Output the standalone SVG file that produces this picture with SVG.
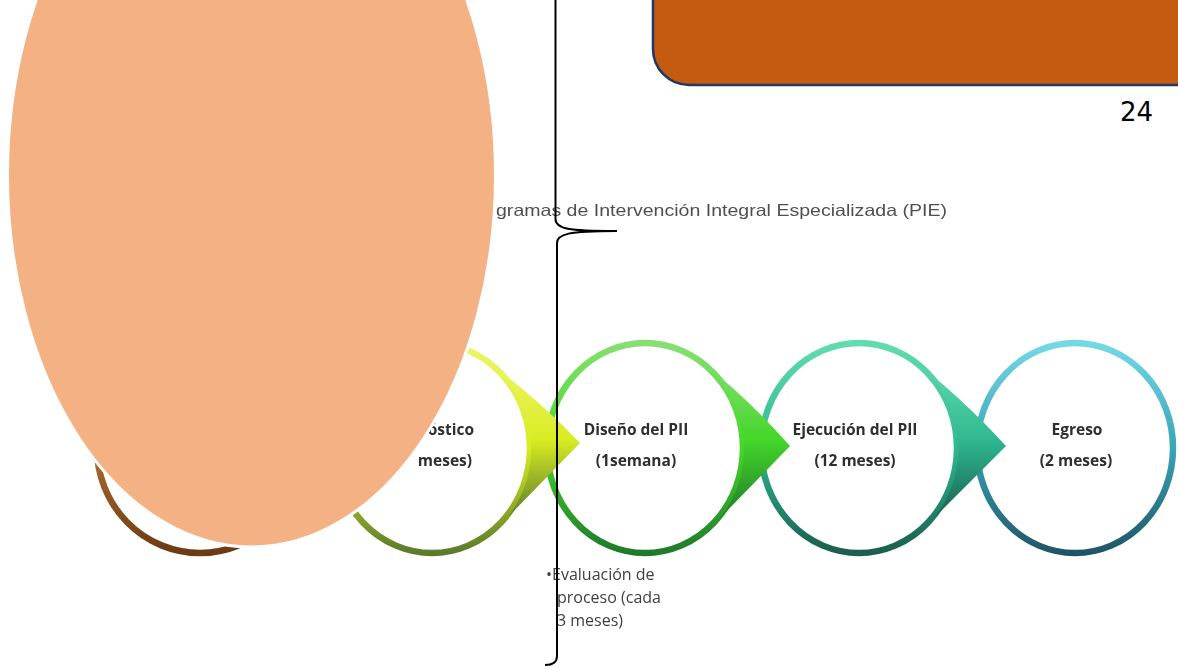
<svg xmlns="http://www.w3.org/2000/svg" width="1178" height="667" viewBox="0 0 1178 667">
<style>
.lbl{font-family:"Open Sans","Liberation Sans",sans-serif;font-weight:bold;font-size:15.5px;fill:#2e2e2e;text-anchor:middle}
.note{font-family:"Open Sans","Liberation Sans",sans-serif;font-size:16px;fill:#404040}
.ring{fill:#fff;stroke-width:6.5}
</style>
<defs>
<linearGradient id="gBrown" x1="0" y1="0" x2="0" y2="1"><stop offset="0" stop-color="#d9a46a"/><stop offset="0.55" stop-color="#a86a30"/><stop offset="1" stop-color="#6b3a12"/></linearGradient>
<linearGradient id="gYellow" x1="0" y1="0" x2="0" y2="1"><stop offset="0" stop-color="#eef56a"/><stop offset="0.5" stop-color="#d8ec22"/><stop offset="1" stop-color="#5c7a2c"/></linearGradient>
<linearGradient id="gGreen" x1="0" y1="0" x2="0" y2="1"><stop offset="0" stop-color="#86e070"/><stop offset="0.5" stop-color="#44d62a"/><stop offset="1" stop-color="#1f7a2a"/></linearGradient>
<linearGradient id="gTeal" x1="0" y1="0" x2="0" y2="1"><stop offset="0" stop-color="#62dcae"/><stop offset="0.5" stop-color="#2fb890"/><stop offset="1" stop-color="#1b5e4e"/></linearGradient>
<linearGradient id="gBlue" x1="0" y1="0" x2="0" y2="1"><stop offset="0" stop-color="#74d8e6"/><stop offset="0.5" stop-color="#3aa5b8"/><stop offset="1" stop-color="#1f5566"/></linearGradient>
<filter id="soft" x="-10%" y="-10%" width="120%" height="120%"><feGaussianBlur stdDeviation="0.7"/></filter>
</defs>
<rect width="1178" height="667" fill="#fff"/>

<g id="header">
<text x="496" y="216" font-family="Liberation Sans, Arial, sans-serif" font-size="16.5" fill="#505050" textLength="451" lengthAdjust="spacingAndGlyphs" filter="url(#soft)">gramas de Intervención Integral Especializada (PIE)</text>
<line x1="470" y1="263" x2="1136" y2="263" stroke="#a8a8a8" stroke-width="3" filter="url(#soft)"/>
</g>

<g id="node-egreso" filter="url(#soft)">
<ellipse class="ring" cx="1075" cy="448" rx="98" ry="105" stroke="url(#gBlue)"/>
<text class="lbl" x="1077" y="435">Egreso</text>
<text class="lbl" x="1076" y="466">(2 meses)</text>
</g>

<g id="node-ejecucion" filter="url(#soft)">
<ellipse class="ring" cx="859" cy="448" rx="98" ry="105" stroke="url(#gTeal)"/>
<path d="M915 362 Q959 395 1006 446 L934 518 A98 105 0 0 0 915 362 Z" fill="url(#gTeal)"/>
<text class="lbl" x="855" y="435">Ejecución del PII</text>
<text class="lbl" x="855" y="466">(12 meses)</text>
</g>

<g id="node-diseno" filter="url(#soft)">
<ellipse class="ring" cx="645" cy="448" rx="98" ry="105" stroke="url(#gGreen)"/>
<path d="M701 362 Q745 395 790 446 L720 518 A98 105 0 0 0 701 362 Z" fill="url(#gGreen)"/>
<text class="lbl" x="636" y="435">Diseño del PII</text>
<text class="lbl" x="636" y="466">(1semana)</text>
</g>

<g id="node-diagnostico" filter="url(#soft)">
<ellipse class="ring" cx="432" cy="448" rx="98" ry="105" stroke="url(#gYellow)"/>
<path d="M488 362 Q534 395 580 443 L507 518 A98 105 0 0 0 488 362 Z" fill="url(#gYellow)"/>
<text class="lbl" x="474" y="435" style="text-anchor:end">óstico</text>
<text class="lbl" x="472" y="466" style="text-anchor:end">meses)</text>
</g>

<g id="node-first" filter="url(#soft)">
<ellipse class="ring" cx="200" cy="448" rx="103" ry="105" stroke="url(#gBrown)"/>
</g>

<g id="note" filter="url(#soft)">
<text class="note" x="546" y="580">•Evaluación de</text>
<text class="note" x="557" y="603">proceso (cada</text>
<text class="note" x="557" y="626">3 meses)</text>
</g>

<g id="title-box">
<rect x="653" y="-40" width="580" height="125" rx="36" ry="36" fill="#c55a11" stroke="#1f3864" stroke-width="2.5"/>
</g>
<g id="page-number">
<text x="1153" y="121" font-family="DejaVu Sans, sans-serif" font-size="26" fill="#000" text-anchor="end">24</text>
</g>

<g id="oval">
<ellipse cx="251.5" cy="175" rx="244" ry="372" fill="#f4b183" stroke="#fff" stroke-width="3"/>
</g>

<g id="connectors">
<path d="M555.5 -10 L555.5 219 C555.5 229 568 231 617 231 C568 231 557 234 557 243 L557 656 C557 663 552 665 545 665" fill="none" stroke="#000" stroke-width="2"/>
</g>
</svg>
